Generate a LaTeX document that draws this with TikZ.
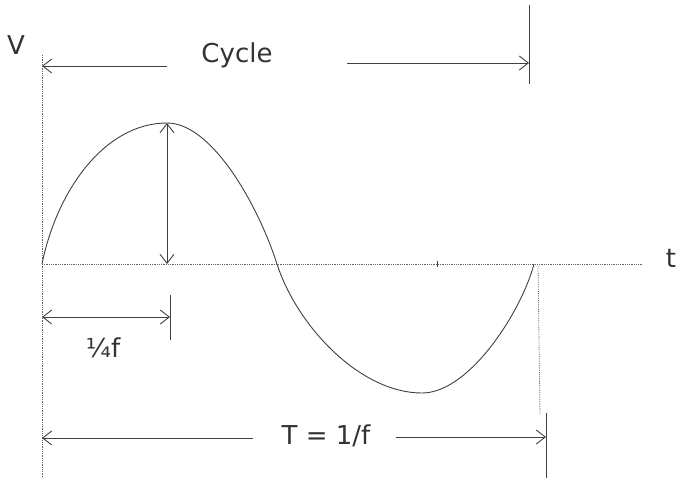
\documentclass[tikz,border=0pt]{standalone}
\usepackage{fontspec}
\setmainfont{DejaVu Sans}
\usetikzlibrary{arrows.meta}
\begin{document}
\begin{tikzpicture}[x=1pt,y=-1pt,
  ink/.style={draw=black!75,line width=0.9pt},
  axisline/.style={draw=black!60,line width=0.8pt,densely dotted},
  dim/.style={ink,{Straight Barb[length=9pt,width=14pt]}-{Straight Barb[length=9pt,width=14pt]}},
  rdim/.style={ink,-{Straight Barb[length=9pt,width=14pt]}},
  hand/.style={font=\fontsize{26}{26}\selectfont,text=black!80,inner sep=1pt}]
\useasboundingbox (0,0) rectangle (682,477);
% key points
\coordinate (O) at (42,264);
\coordinate (Ytop) at (42,55);
\coordinate (Ybot) at (42,477);
\coordinate (Xend) at (642,264);
\coordinate (Peak) at (167,123);
\coordinate (PeakFoot) at (167,264);
\coordinate (Cross) at (277,264);
\coordinate (Trough) at (422,393);
\coordinate (End) at (534,264);
% axes
\draw[axisline] (Ybot) -- (Ytop);
\draw[axisline] (O) -- (Xend);
\draw[axisline] (538,266) -- (540,415);
\draw[ink,line width=0.6pt] (437,261) -- (437,267);
\node[hand] (V) at (16,45) {V};
\node[hand] (t) at (671,258) {t};
% sine wave
\draw[ink] (O) .. controls (57,190) and (105,123) .. (Peak)
  .. controls (212,123) and (258,205) .. (Cross)
  .. controls (297,326) and (360,393) .. (Trough)
  .. controls (470,393) and (522,310) .. (End);
% cycle arrow
\coordinate (CtickT) at (529,5);
\coordinate (CtickB) at (529,84);
\draw[ink] (CtickT) -- (CtickB);
\node[hand] (cyc) at (237,55) {Cycle};
\coordinate (Cl) at (42,66);
\coordinate (Cr) at (529,63);
\draw[rdim] (167,66) -- (Cl);
\draw[rdim] (347,63) -- (Cr);
% amplitude arrow
\draw[dim] (PeakFoot) -- (Peak);
% quarter arrow
\coordinate (QtT) at (170,295);
\coordinate (QtB) at (170,340);
\draw[ink] (QtT) -- (QtB);
\coordinate (Ql) at (42,317);
\coordinate (Qr) at (170,317);
\draw[dim] (Ql) -- (Qr);
\node[hand] (q) at (103,348) {¼f};
% period arrow
\coordinate (PtT) at (546,413);
\coordinate (PtB) at (546,481);
\draw[ink] (PtT) -- (PtB);
\node[hand] (T) at (326,436) {T = 1/f};
\coordinate (Pl) at (42,438);
\coordinate (Pr) at (546,437);
\draw[rdim] (253,438) -- (Pl);
\draw[rdim] (396,437) -- (Pr);
\end{tikzpicture}
\end{document}
